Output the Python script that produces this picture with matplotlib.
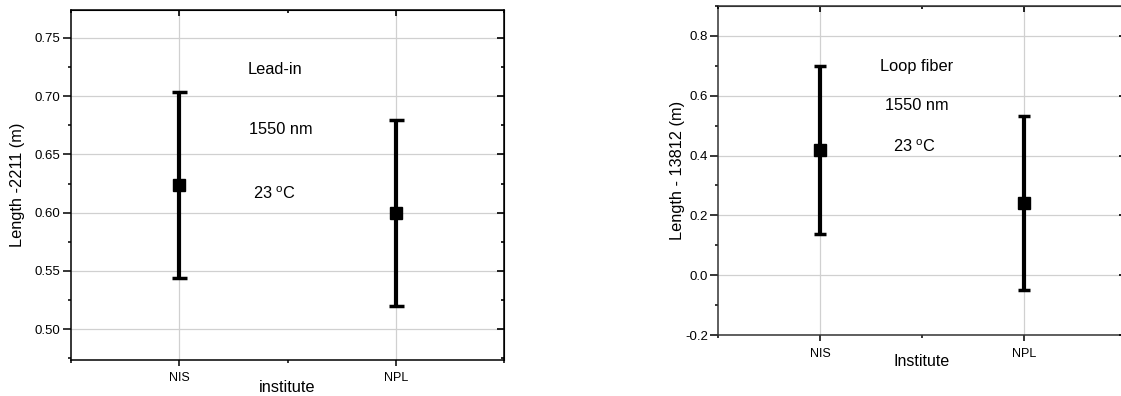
import numpy as np
import matplotlib.pyplot as plt
from matplotlib.ticker import MultipleLocator, FixedLocator

plt.rcParams['font.family'] = ['Liberation Sans', 'DejaVu Sans']
plt.rcParams['mathtext.fontset'] = 'custom'
plt.rcParams['mathtext.rm'] = 'Liberation Sans'
plt.rcParams['axes.unicode_minus'] = False

institutes = ['NIS', 'NPL']
positions = [1, 2]

lead_values = [0.624, 0.600]
lead_errors = [0.080, 0.080]

loop_values = [0.418, 0.241]
loop_errors = [0.280, 0.290]

lead_notes = ['Lead-in', '1550 nm', r'23 $^{\mathrm{o}}$C']
lead_note_x = [1.318, 1.322, 1.34]
lead_note_y = [0.723, 0.671, 0.616]

loop_notes = ['Loop fiber', '1550 nm', r'23 $^{\mathrm{o}}$C']
loop_note_x = [1.294, 1.319, 1.357]
loop_note_y = [0.697, 0.566, 0.43]


def style_axes(ax, ylim, ymajor, yminor, fmt, spine_color):
    ax.set_xlim(0.5, 2.5)
    ax.set_ylim(*ylim)
    ax.set_axisbelow(True)
    ax.xaxis.set_major_locator(FixedLocator(positions))
    ax.xaxis.set_minor_locator(FixedLocator([0.5, 1.5, 2.5]))
    ax.set_xticklabels(institutes)
    ax.yaxis.set_major_locator(MultipleLocator(ymajor))
    ax.yaxis.set_minor_locator(MultipleLocator(yminor))
    ax.yaxis.set_major_formatter(fmt)
    ax.grid(True, which='major', color='#d0d0d0', linewidth=0.9)
    ax.tick_params(axis='y', which='major', direction='out', length=5.5, width=1.1,
                   labelsize=9.5, pad=2)
    ax.tick_params(axis='y', which='minor', direction='out', length=2.2, width=1.1)
    ax.tick_params(axis='x', which='major', direction='out', length=4, width=1.1,
                   labelsize=9, pad=5)
    ax.tick_params(axis='x', which='minor', direction='out', length=2.2, width=1.1)
    for s in ax.spines.values():
        s.set_linewidth(1.1)
        s.set_color(spine_color)
    # inward ticks on the right and top
    sy = ax.secondary_yaxis('right')
    sy.set_zorder(5)
    sy.yaxis.set_major_locator(MultipleLocator(ymajor))
    sy.yaxis.set_minor_locator(MultipleLocator(yminor))
    sy.tick_params(which='major', direction='in', length=5, width=1.2, labelright=False)
    sy.tick_params(which='minor', direction='in', length=2, width=1.2)
    sy.spines['right'].set_color(spine_color)
    sx = ax.secondary_xaxis('top')
    sx.set_zorder(5)
    sx.xaxis.set_major_locator(FixedLocator(positions))
    sx.xaxis.set_minor_locator(FixedLocator([0.5, 1.5, 2.5]))
    sx.tick_params(which='major', direction='in', length=4, width=1.2, labeltop=False)
    sx.tick_params(which='minor', direction='in', length=2, width=1.2)
    sx.spines['top'].set_color(spine_color)


fig = plt.figure(figsize=(11.21, 3.96), dpi=100)

ax1 = fig.add_axes([71 / 1121, 36.5 / 396, 433 / 1121, 349.5 / 396])
ax1.errorbar(positions, lead_values, yerr=lead_errors, fmt='s', color='k',
             markersize=9, elinewidth=3, capsize=5.4, capthick=2.5, zorder=3)
style_axes(ax1, (0.474, 0.774), 0.05, 0.025, '{x:.2f}', 'black')
ax1.set_ylabel('Length -2211 (m)', fontsize=11.8, labelpad=7)
ax1.set_xlabel('institute', fontsize=11.8, labelpad=-3)
for t, x, y in zip(lead_notes, lead_note_x, lead_note_y):
    ax1.text(x, y, t, fontsize=11.8, ha='left', va='center')

ax2 = fig.add_axes([718.3 / 1121, 60.7 / 396, 407.2 / 1121, 329.6 / 396])
ax2.errorbar(positions, loop_values, yerr=loop_errors, fmt='s', color='k',
             markersize=9, elinewidth=3, capsize=4.3, capthick=2.5, zorder=3)
style_axes(ax2, (-0.2, 0.9), 0.2, 0.1, '{x:.1f}', '#333333')
ax2.set_ylabel('Length - 13812 (m)', fontsize=11.8, labelpad=0)
ax2.set_xlabel('Institute', fontsize=11.5, labelpad=-4)
for t, x, y in zip(loop_notes, loop_note_x, loop_note_y):
    ax2.text(x, y, t, fontsize=11.8, ha='left', va='center')

fig.savefig('out.png', dpi=100)
